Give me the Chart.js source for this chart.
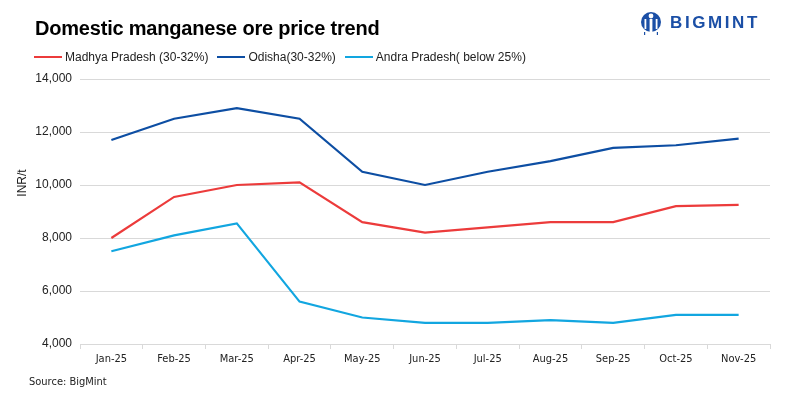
<!DOCTYPE html>
<html>
<head>
<meta charset="utf-8">
<script src="https://cdn.jsdelivr.net/npm/chart.js@4.4.0/dist/chart.umd.min.js"></script>
<style>
  html, body { margin: 0; padding: 0; background: #fff; }
  #wrap { position: relative; width: 785px; height: 399px; overflow: hidden; font-family: "Liberation Sans", Arial, sans-serif; }
  #chart { position: absolute; left: 0; top: 0; }
  .title { position: absolute; left: 35px; top: 17px; font-size: 20px; font-weight: bold; color: #000; letter-spacing: -0.2px; }
  .legend { position: absolute; left: 34px; top: 50px; font-size: 12px; color: #222; display: flex; }
  .legend .item { display: flex; align-items: center; margin-right: 9px; }
  .legend .swatch { width: 28px; height: 2px; margin-right: 3px; }
  .ylabel { position: absolute; left: 2px; top: 176px; width: 40px; text-align: center; font-size: 12px; color: #222; transform: rotate(-90deg); }
  .source { position: absolute; left: 29px; top: 375px; font-size: 11px; color: #222; font-family: "Liberation Sans Narrow", "DejaVu Sans Condensed", sans-serif; }
  .logo { position: absolute; left: 640px; top: 11px; display: flex; align-items: center; }
  .logo span { font-size: 17px; font-weight: bold; color: #1b4fa6; letter-spacing: 2.6px; margin-left: 8px; }
</style>
</head>
<body>
<div id="wrap">
  <canvas id="chart" width="785" height="399"></canvas>
  <div class="title">Domestic manganese ore price trend</div>
  <div class="legend" id="legend"></div>
  <div class="ylabel">INR/t</div>
  <div class="source">Source: BigMint</div>
  <div class="logo">
    <svg width="22" height="24" viewBox="0 0 22 24">
      <circle cx="11" cy="11" r="10" fill="#1b4fa6"/>
      <circle cx="11" cy="5" r="2.4" fill="#fff"/>
      <rect x="9.6" y="8" width="2.8" height="13" fill="#fff"/>
      <rect x="4.5" y="8" width="1.8" height="10" fill="#fff"/>
      <rect x="15.7" y="8" width="1.8" height="10" fill="#fff"/>
      <rect x="4" y="21" width="1.2" height="3" fill="#1b4fa6"/>
      <rect x="16.8" y="21" width="1.2" height="3" fill="#1b4fa6"/>
    </svg>
    <span>BIGMINT</span>
  </div>
</div>
<script>
const months = ["Jan-25", "Feb-25", "Mar-25", "Apr-25", "May-25", "Jun-25", "Jul-25", "Aug-25", "Sep-25", "Oct-25", "Nov-25"];
const madhyaPradesh = [8000, 9550, 10000, 10100, 8600, 8200, 8400, 8600, 8600, 9200, 9250];
const odisha = [11700, 12500, 12900, 12500, 10500, 10000, 10500, 10900, 11400, 11500, 11750];
const andraPradesh = [7500, 8100, 8550, 5600, 5000, 4800, 4800, 4900, 4800, 5100, 5100];
const seriesNames = ["Madhya Pradesh (30-32%)", "Odisha(30-32%)", "Andra Pradesh( below 25%)"];
const seriesColors = ["#ec3b3b", "#0d4ea3", "#12a6e0"];

const datasets = [madhyaPradesh, odisha, andraPradesh].map(function (vals, i) {
  return {
    label: seriesNames[i],
    data: vals,
    borderColor: seriesColors[i],
    backgroundColor: seriesColors[i],
    borderWidth: 2.2,
    pointRadius: 0,
    tension: 0,
    fill: false
  };
});

// legenda manual
const legendEl = document.getElementById("legend");
seriesNames.forEach(function (name, i) {
  const item = document.createElement("div");
  item.className = "item";
  item.innerHTML = '<div class="swatch" style="background:' + seriesColors[i] + '"></div>' + name;
  legendEl.appendChild(item);
});

new Chart(document.getElementById("chart"), {
  type: "line",
  data: { labels: months, datasets: datasets },
  options: {
    responsive: false,
    animation: false,
    layout: { padding: { left: 0, right: 15, top: 79, bottom: 25 } },
    plugins: { legend: { display: false }, tooltip: { enabled: false } },
    scales: {
      x: {
        offset: true,
        grid: { offset: true, drawOnChartArea: false, color: "#d9d9d9", tickLength: 5 },
        border: { color: "#d9d9d9" },
        ticks: {
          color: "#222",
          padding: 4,
          maxRotation: 0,
          font: { family: "'Liberation Sans Narrow', 'DejaVu Sans Condensed', sans-serif", size: 11 }
        },
        afterFit: function (scale) { scale.height = 30; }
      },
      y: {
        min: 4000,
        max: 14000,
        ticks: {
          stepSize: 2000,
          color: "#222",
          padding: 8,
          font: { family: "'Liberation Sans', Arial, sans-serif", size: 12 },
          callback: function (v) { return v.toLocaleString("en-US"); }
        },
        grid: { color: "#d9d9d9", drawTicks: false },
        border: { display: false },
        afterFit: function (scale) { scale.width = 80; }
      }
    }
  }
});
</script>
</body>
</html>
